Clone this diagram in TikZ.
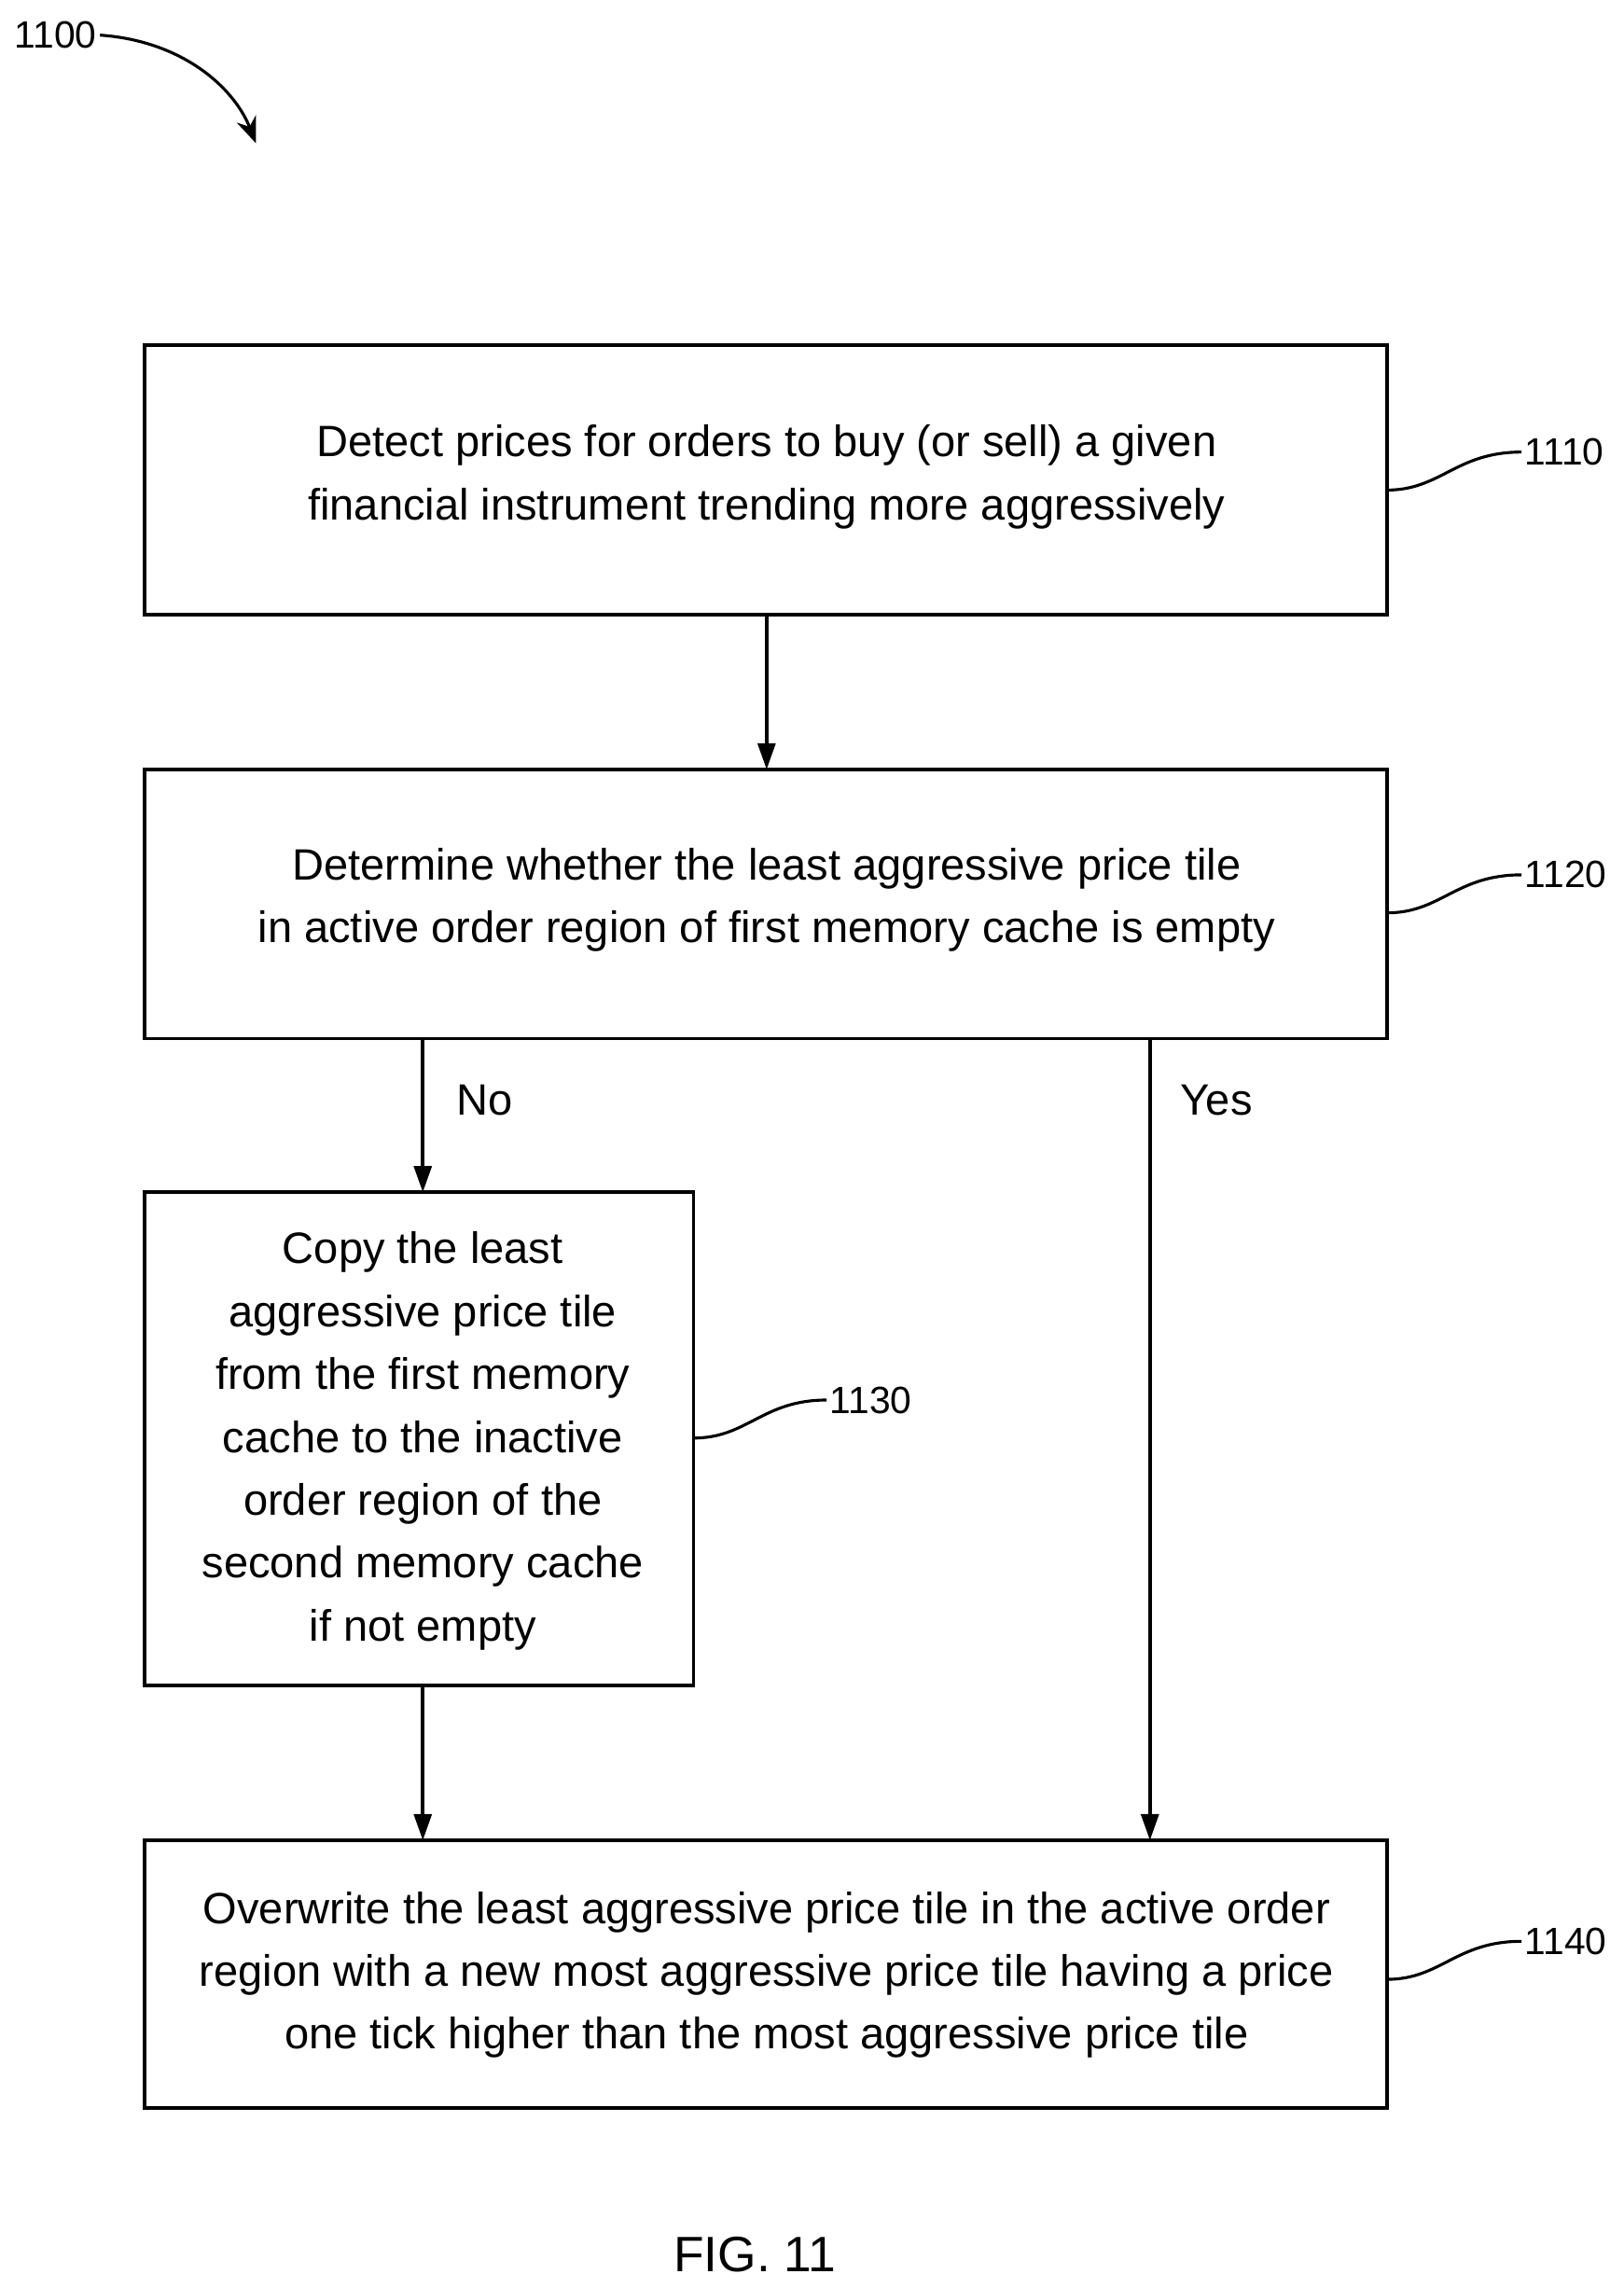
\documentclass[tikz,border=0pt]{standalone}
\usepackage{fontspec}
\setmainfont{Liberation Sans}
\usetikzlibrary{arrows.meta}
\begin{document}
\begin{tikzpicture}[x=0.5pt,y=-0.5pt,
  box/.style={draw,line width=1.2pt,inner sep=0pt},
  txt/.style={font=\fontsize{15}{21.5}\selectfont,align=center},
  lbl/.style={font=\fontsize{13}{15}\selectfont,anchor=west,inner sep=1pt},
  arr/.style={line width=1.2pt,-{Triangle[length=9pt,width=6pt]}},
  sq/.style={line width=1pt}]
\useasboundingbox (0,0) rectangle (1110,1564);
\draw[box] (99,236) rectangle (948,420); \node[txt] (t1) at (524,326) {Detect prices for orders to buy (or sell) a given\\financial instrument trending more aggressively};
\draw[box] (99,526) rectangle (948,710); \node[txt] (t2) at (524,615) {Determine whether the least aggressive price tile\\in active order region of first memory cache is empty};
\draw[box] (99,815) rectangle (474,1152); \node[txt] (t3) at (289,985) {Copy the least\\aggressive price tile\\from the first memory\\cache to the inactive\\order region of the\\second memory cache\\if not empty};
\draw[box] (99,1258) rectangle (948,1441); \node[txt] (t4) at (524,1350) {Overwrite the least aggressive price tile in the active order\\region with a new most aggressive price tile having a price\\one tick higher than the most aggressive price tile};
\coordinate (a1) at (524,420); \coordinate (a2) at (524,526);
\draw[arr] (a1) -- (a2);
\coordinate (n1) at (289,710); \coordinate (n2) at (289,815);
\draw[arr] (n1) -- (n2); \node[txt,anchor=west] (no) at (305,752) {No};
\coordinate (y1) at (786,710); \coordinate (y2) at (786,1258);
\draw[arr] (y1) -- (y2); \node[txt,anchor=west] (yes) at (800,752) {Yes};
\coordinate (c1) at (289,1152); \coordinate (c2) at (289,1258);
\draw[arr] (c1) -- (c2);
\foreach \yy/\l in {335/1110,624/1120,1353/1140}{
  \node[lbl] (L\l) at (1040,\yy-26) {\l};
  \draw[sq] (948,\yy) .. controls (985,\yy) and (995,\yy-26) .. (L\l.west);
}
\node[lbl] (L1130) at (565,957) {1130};
\draw[sq] (474,983) .. controls (511,983) and (521,957) .. (L1130.west);
\node[lbl,anchor=center] (L1100) at (38,24) {1100};
\draw[line width=1pt,-{Stealth[length=9pt,width=7pt]}] (L1100.east) .. controls (125,28) and (160,60) .. (175,98);
\node[font=\fontsize{17}{20}\selectfont] (fig) at (516,1541) {FIG. 11};
\end{tikzpicture}
\end{document}
